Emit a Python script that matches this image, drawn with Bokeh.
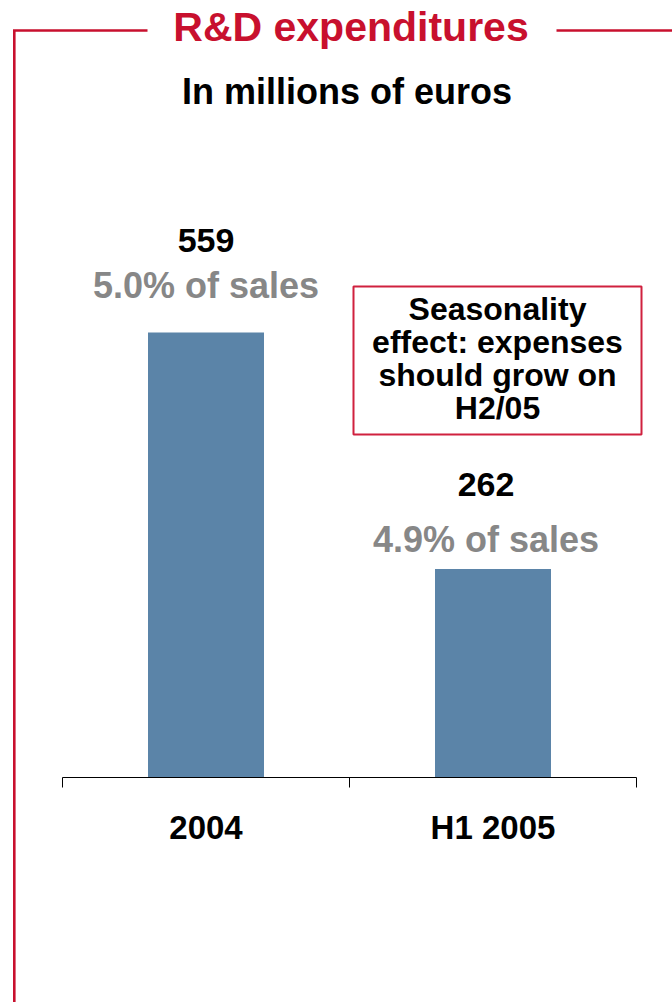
from bokeh.plotting import figure
from bokeh.models import Range1d, FixedTicker, ColumnDataSource
from bokeh.core.properties import value
from bokeh.embed import file_html
from bokeh.resources import INLINE

# ---------------- data ----------------
categories = ["2004", "H1 2005"]
rd_expenditures = [559, 262]
share_of_sales = ["5.0% of sales", "4.9% of sales"]
title_text = "R&D expenditures"
subtitle_text = "In millions of euros"
note_text = "Seasonality\neffect: expenses\nshould grow on\nH2/05"

# ---------------- layout (pixels) ----------------
W, H = 672, 1002
AX_LEFT, AX_RIGHT = 62, 636      # extent of the category axis
BASE_Y = 777                      # pixel row of the value 0
PX_PER_UNIT_Y = 0.796             # vertical scale (px per million euros)
BAR_PX = 116
N = len(categories)
PX_PER_CAT = (AX_RIGHT - AX_LEFT) / N
TXT_SHIFT = 12                    # correction of the text baseline (px)

x_start = -AX_LEFT / PX_PER_CAT
x_end = N + (W - AX_RIGHT) / PX_PER_CAT
y_end = BASE_Y / PX_PER_UNIT_Y
y_start = -(H - BASE_Y) / PX_PER_UNIT_Y


def X(px):
    return x_start + px / PX_PER_CAT


def Y(py):
    return y_end - py / PX_PER_UNIT_Y


RED = "#C8102E"
BLUE = "#5B84A8"
GREY = "#878787"
FONT = value("Liberation Sans")

p = figure(width=W, height=H, output_backend="svg", toolbar_location=None,
           x_range=Range1d(x_start, x_end), y_range=Range1d(y_start, y_end),
           min_border=0, min_border_left=0, min_border_right=0,
           min_border_top=0, min_border_bottom=0)
p.outline_line_color = None
p.grid.visible = False
p.yaxis.visible = False
p.background_fill_color = "white"
p.border_fill_color = "white"

# ---------------- bars ----------------
xc = [i + 0.5 for i in range(N)]
src = ColumnDataSource(dict(x=xc, top=rd_expenditures, cat=categories))
p.vbar(x="x", top="top", bottom=0, width=BAR_PX / PX_PER_CAT, source=src,
       fill_color=BLUE, line_color=None)

# value labels (pixel gaps from each bar top to the text baseline)
value_gap_px = [80, 72]
share_gap_px = [35, 17]
label_dx = [0, -7]
lab = ColumnDataSource(dict(
    x=xc,
    yv=[v + (g + TXT_SHIFT) / PX_PER_UNIT_Y for v, g in zip(rd_expenditures, value_gap_px)],
    ys=[v + (g + TXT_SHIFT) / PX_PER_UNIT_Y for v, g in zip(rd_expenditures, share_gap_px)],
    val=[str(v) for v in rd_expenditures], share=share_of_sales, dx=label_dx))
p.text(x="x", y="yv", text="val", x_offset="dx", source=lab, text_font=FONT,
       text_font_style="bold", text_font_size="34px", text_color="black",
       text_align="center", text_baseline="alphabetic")
p.text(x="x", y="ys", text="share", x_offset="dx", source=lab, text_font=FONT,
       text_font_style="bold", text_font_size="36px", text_color=GREY,
       text_align="center", text_baseline="alphabetic")

# ---------------- axis ----------------
ax = p.xaxis[0]
ax.fixed_location = 0
ax.bounds = (0, N)
ax.ticker = FixedTicker(ticks=xc, minor_ticks=list(range(N + 1)))
ax.major_label_overrides = {x: c for x, c in zip(xc, categories)}
ax.major_tick_in = 0
ax.major_tick_out = 0
ax.minor_tick_in = 0
ax.minor_tick_out = 10
ax.minor_tick_line_color = "black"
ax.axis_line_color = "black"
ax.axis_line_width = 1.2
ax.major_label_standoff = 21
ax.major_label_text_font = "Liberation Sans"
ax.major_label_text_font_style = "bold"
ax.major_label_text_font_size = "33px"
ax.major_label_text_color = "black"

# ---------------- frame decoration ----------------
p.line(x=[X(147), X(13.8), X(13.8)], y=[Y(30), Y(30), Y(H + 5)],
       line_color=RED, line_width=2.6, line_join="miter")
p.line(x=[X(556), X(W + 5)], y=[Y(30), Y(30)], line_color=RED, line_width=2.6)

p.text(x=[X(350.5)], y=[Y(38 - TXT_SHIFT)], text=[title_text], text_font=FONT,
       text_font_style="bold", text_font_size="41px", text_color=RED,
       text_align="center", text_baseline="alphabetic")
p.text(x=[X(346.5)], y=[Y(103 - TXT_SHIFT)], text=[subtitle_text], text_font=FONT,
       text_font_style="bold", text_font_size="36px", text_color="black",
       text_align="center", text_baseline="alphabetic")

# ---------------- note box ----------------
p.quad(left=[X(353)], right=[X(641)], top=[Y(286)], bottom=[Y(434)],
       fill_color="white", line_color="#D0213F", line_width=2)
p.text(x=[X(497)], y=[Y(358)], text=[note_text], text_font=FONT,
       text_font_style="bold", text_font_size="32px", text_color="black",
       text_align="center", text_baseline="middle", text_line_height=0.925)

open("out.html", "w").write(file_html(p, INLINE))
